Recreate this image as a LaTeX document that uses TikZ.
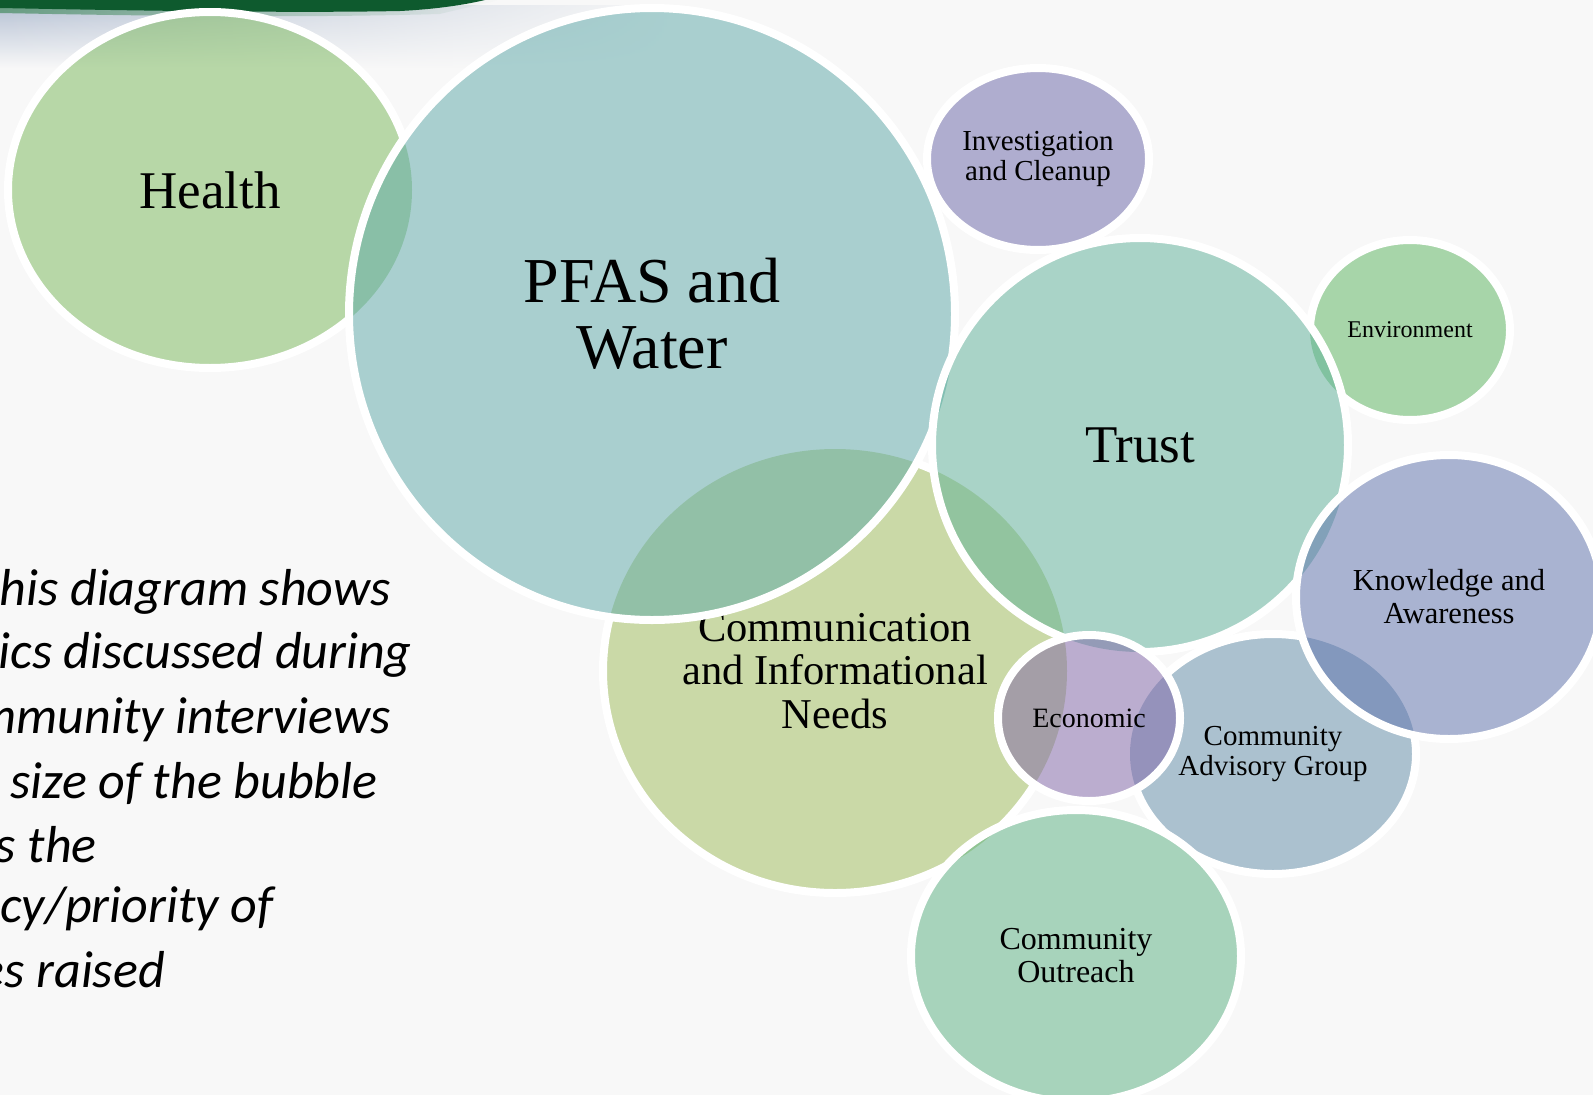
\documentclass[tikz,border=0pt]{standalone}
\usepackage{fontspec}
\setmainfont{Liberation Serif}
\newfontfamily\calfont{Carlito}
\usetikzlibrary{shapes.geometric,fadings}
\definecolor{bgc}{RGB}{248,248,248}
\definecolor{bandg}{RGB}{14,90,46}
\definecolor{fringe}{RGB}{70,140,96}
\definecolor{shadowc}{RGB}{184,195,213}
\definecolor{cHealth}{RGB}{120,184,88}
\definecolor{cPFAS}{RGB}{92,168,168}
\definecolor{cInv}{RGB}{104,100,168}
\definecolor{cTrust}{RGB}{92,176,152}
\definecolor{cEnv}{RGB}{88,180,92}
\definecolor{cKnow}{RGB}{92,112,172}
\definecolor{cCAG}{RGB}{96,140,168}
\definecolor{cEcon}{RGB}{128,100,168}
\definecolor{cComm}{RGB}{158,188,88}
\definecolor{cOut}{RGB}{88,176,128}
\tikzfading[name=fadeRight, left color=transparent!0, middle color=transparent!5, right color=transparent!100]
\begin{document}
\begin{tikzpicture}[x=1pt,y=-1pt,
  bub/.style={ellipse, inner sep=0pt, outer sep=0pt, fill opacity=0.5, text opacity=1, align=center, text=black},
  rim/.style={draw=white, line width=8pt},
  lt/.style={font=\calfont\itshape\fontsize{52}{60}\selectfont, inner sep=0pt, anchor=base east, text=black},
  radHealth/.style={x radius=202pt, y radius=178pt},
  radEnv/.style={x radius=100pt, y radius=90pt},
  radCAG/.style={x radius=143pt, y radius=120pt},
  radComm/.style={x radius=232pt, y radius=222pt},
  radPFAS/.style={x radius=303pt, y radius=306pt},
  radInv/.style={x radius=111pt, y radius=91pt},
  radTrust/.style={x radius=208pt, y radius=207pt},
  radKnow/.style={x radius=153pt, y radius=142pt},
  radEcon/.style={x radius=91pt, y radius=83pt},
  radOut/.style={x radius=165pt, y radius=146pt}]
\clip (0,0) rectangle (1593,1095);
\fill[bgc] (0,0) rectangle (1593,1095);
% top decoration
\shade[top color=shadowc, bottom color=bgc, path fading=fadeRight] (0,6) rectangle (680,68);
\fill[fringe, opacity=0.7, path fading=fadeRight] (0,6) -- (500,0) -- (440,14) .. controls (300,18) and (150,16) .. (0,13) -- cycle;
\fill[bandg] (0,0) -- (485,0) .. controls (468,4) and (440,9) .. (400,11) .. controls (300,13) and (150,11) .. (0,8) -- cycle;
% bubbles (fills and texts)
\node[bub, fill=cHealth, minimum width=404pt, minimum height=356pt, font=\fontsize{53}{56}\selectfont] (health) at (210,190) {Health};
\node[bub, fill=cEnv, minimum width=200pt, minimum height=180pt, font=\fontsize{24}{27}\selectfont] (env) at (1410,330) {Environment};
\node[bub, fill=cCAG, minimum width=286pt, minimum height=240pt, font=\fontsize{29}{30}\selectfont] (cag) at (1273,754) {Community\\Advisory Group};
\node[bub, fill=cComm, minimum width=464pt, minimum height=444pt, font=\fontsize{42.5}{43.5}\selectfont] (comm) at (835,671) {Communication\\and Informational\\Needs};
\node[bub, fill=cPFAS, minimum width=606pt, minimum height=612pt, font=\fontsize{64}{66}\selectfont] (pfas) at (652,314) {PFAS and\\Water};
\node[bub, fill=cInv, minimum width=222pt, minimum height=182pt, font=\fontsize{29}{30.5}\selectfont] (inv) at (1038,159) {Investigation\\and Cleanup};
\node[bub, fill=cTrust, minimum width=416pt, minimum height=414pt, font=\fontsize{53}{56}\selectfont] (trust) at (1140,445) {Trust};
\node[bub, fill=cKnow, minimum width=306pt, minimum height=284pt, font=\fontsize{30.5}{33}\selectfont] (know) at (1449,597) {Knowledge and\\Awareness};
\node[bub, fill=cEcon, minimum width=182pt, minimum height=166pt, font=\fontsize{28}{30}\selectfont] (econ) at (1089,718) {Economic};
\node[bub, fill=cOut, minimum width=330pt, minimum height=292pt, font=\fontsize{32}{33}\selectfont] (outreach) at (1076,956) {Community\\Outreach};
% white rims, hidden under bubbles that lie above
\begin{scope}[even odd rule]
  \clip (-50,-50) rectangle (1700,1200) (pfas.center) ellipse [radPFAS];
  \draw[rim] (health.center) ellipse [radHealth];
\end{scope}
\begin{scope}[even odd rule]
  \clip (-50,-50) rectangle (1700,1200) (trust.center) ellipse [radTrust];
  \draw[rim] (env.center) ellipse [radEnv];
\end{scope}
\begin{scope}[even odd rule]
  \clip (-50,-50) rectangle (1700,1200) (know.center) ellipse [radKnow];
  \clip (-50,-50) rectangle (1700,1200) (econ.center) ellipse [radEcon];
  \clip (-50,-50) rectangle (1700,1200) (outreach.center) ellipse [radOut];
  \draw[rim] (cag.center) ellipse [radCAG];
\end{scope}
\begin{scope}[even odd rule]
  \clip (-50,-50) rectangle (1700,1200) (pfas.center) ellipse [radPFAS];
  \clip (-50,-50) rectangle (1700,1200) (trust.center) ellipse [radTrust];
  \clip (-50,-50) rectangle (1700,1200) (econ.center) ellipse [radEcon];
  \clip (-50,-50) rectangle (1700,1200) (outreach.center) ellipse [radOut];
  \draw[rim] (comm.center) ellipse [radComm];
\end{scope}
\begin{scope}[even odd rule]
  \clip (-50,-50) rectangle (1700,1200) (trust.center) ellipse [radTrust];
  \clip (-50,-50) rectangle (1700,1200) (inv.center) ellipse [radInv];
  \draw[rim] (pfas.center) ellipse [radPFAS];
\end{scope}
\begin{scope}[even odd rule]
  \clip (-50,-50) rectangle (1700,1200) (trust.center) ellipse [radTrust];
  \draw[rim] (inv.center) ellipse [radInv];
\end{scope}
\begin{scope}[even odd rule]
  \clip (-50,-50) rectangle (1700,1200) (know.center) ellipse [radKnow];
  \clip (-50,-50) rectangle (1700,1200) (econ.center) ellipse [radEcon];
  \draw[rim] (trust.center) ellipse [radTrust];
\end{scope}
\draw[rim] (know.center) ellipse [radKnow];
\draw[rim] (econ.center) ellipse [radEcon];
\draw[rim] (outreach.center) ellipse [radOut];
% left caption (cut at the left edge)
\node[lt] (t1) at (391,605) {his diagram shows};
\node[lt] (t2) at (412,668) {ics discussed during};
\node[lt] (t3) at (391,733) {mmunity interviews};
\node[lt, anchor=base west] (t4) at (10,798) {size of the bubble};
\node[lt] (t5) at (97,862) {s the};
\node[lt, anchor=base west] (t6) at (0,922) {cy/priority of};
\node[lt] (t7) at (165,987) {es raised};
\end{tikzpicture}
\end{document}
